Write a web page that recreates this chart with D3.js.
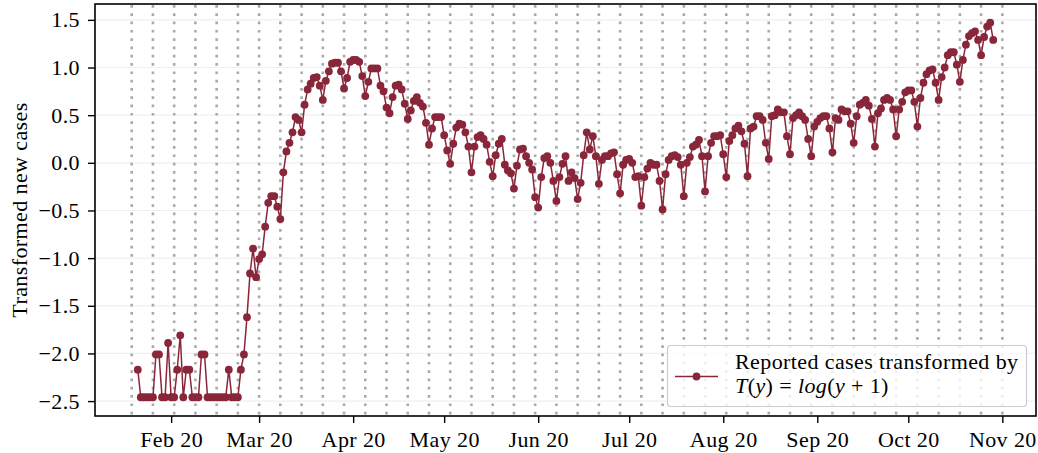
<!DOCTYPE html>
<html>
<head>
<meta charset="utf-8">
<script src="https://cdn.jsdelivr.net/npm/d3@7"></script>
<style>
  body { margin: 0; background: #fff; }
  text { font-family: "Liberation Serif", "DejaVu Serif", serif; fill: #000; letter-spacing: 0.4px; }
</style>
</head>
<body>
<div class="chart"></div>
<script>
// daily series, first value is 2020-01-21
var startDate = "2020-01-21";
var values = [
  -2.17, -2.46, -2.46, -2.46, -2.46, -2.46, -2.01, -2.01, -2.46, -2.46,
  -1.89, -2.46, -2.46, -2.17, -1.81, -2.46, -2.17, -2.17, -2.46, -2.46,
  -2.46, -2.01, -2.01, -2.46, -2.46, -2.46, -2.46, -2.46, -2.46, -2.46,
  -2.17, -2.46, -2.46, -2.46, -2.17, -2.01, -1.62, -1.16, -0.90, -1.20,
  -1.01, -0.96, -0.67, -0.42, -0.35, -0.35, -0.46, -0.59, -0.10, 0.12,
  0.21, 0.32, 0.48, 0.45, 0.32, 0.61, 0.77, 0.83, 0.89, 0.90,
  0.81, 0.66, 0.86, 0.96, 1.04, 1.05, 1.05, 0.96, 0.78, 0.89,
  1.06, 1.08, 1.08, 1.06, 0.91, 0.70, 0.85, 0.99, 0.99, 0.99,
  0.81, 0.75, 0.58, 0.52, 0.69, 0.81, 0.82, 0.77, 0.62, 0.46,
  0.55, 0.65, 0.69, 0.63, 0.59, 0.42, 0.19, 0.36, 0.48, 0.48,
  0.48, 0.29, 0.13, -0.01, 0.20, 0.37, 0.41, 0.40, 0.32, 0.17,
  -0.10, 0.17, 0.27, 0.29, 0.25, 0.19, 0.01, -0.14, 0.08, 0.20,
  0.25, -0.02, -0.08, -0.11, -0.27, -0.03, 0.14, 0.15, 0.07, 0.00,
  -0.07, -0.36, -0.47, -0.15, 0.05, 0.07, 0.00, -0.19, -0.40, -0.15,
  -0.01, 0.07, -0.19, -0.10, -0.16, -0.38, -0.21, 0.08, 0.32, 0.14,
  0.28, 0.07, -0.22, 0.03, 0.07, 0.07, 0.10, 0.11, -0.12, -0.32,
  -0.02, 0.03, 0.04, 0.00, -0.15, -0.14, -0.45, -0.15, -0.06, 0.00,
  -0.02, -0.02, -0.19, -0.49, -0.12, 0.03, 0.07, 0.08, 0.06, -0.02,
  -0.35, 0.00, 0.06, 0.17, 0.19, 0.24, 0.07, -0.30, 0.07, 0.21,
  0.28, 0.28, 0.29, 0.09, -0.15, 0.23, 0.29, 0.36, 0.39, 0.33,
  0.20, -0.14, 0.36, 0.38, 0.49, 0.49, 0.45, 0.21, 0.04, 0.49,
  0.50, 0.56, 0.53, 0.53, 0.28, 0.09, 0.47, 0.50, 0.53, 0.49,
  0.45, 0.25, 0.07, 0.38, 0.43, 0.47, 0.49, 0.49, 0.36, 0.11,
  0.47, 0.45, 0.56, 0.54, 0.54, 0.41, 0.21, 0.49, 0.61, 0.63,
  0.66, 0.60, 0.46, 0.17, 0.52, 0.57, 0.66, 0.68, 0.66, 0.56,
  0.28, 0.56, 0.64, 0.74, 0.76, 0.76, 0.64, 0.38, 0.68, 0.84,
  0.93, 0.97, 0.98, 0.84, 0.66, 0.90, 1.00, 1.13, 1.16, 1.16,
  1.03, 0.85, 1.08, 1.24, 1.33, 1.36, 1.38, 1.29, 1.13, 1.32,
  1.43, 1.47, 1.29
];
var monthTicks = ["2020-02-01", "2020-03-01", "2020-04-01", "2020-05-01", "2020-06-01",
                  "2020-07-01", "2020-08-01", "2020-09-01", "2020-10-01", "2020-11-01"];
var yTicks = [-2.5, -2.0, -1.5, -1.0, -0.5, 0.0, 0.5, 1.0, 1.5];
var yLabel = "Transformed new cases";
var legendLine1 = "Reported cases transformed by";

draw();

function draw() {
    var width = 1038, height = 453;
    var left = 95, right = 1036, top = 4, bottom = 416;
    var lineColor = "#89263a";
    var fontSize = 22;

    var first = new Date(startDate + "T00:00:00Z");
    var dates = values.map(function (v, i) {
        return d3.utcDay.offset(first, i);
    });
    var last = dates[dates.length - 1];

    // matplotlib style 5% margins
    var xPad = (last - first) * 0.05;
    var x = d3.scaleUtc()
        .domain([new Date(first.getTime() - xPad), new Date(last.getTime() + xPad)])
        .range([left, right]);

    var ext = d3.extent(values);
    var yPad = (ext[1] - ext[0]) * 0.05;
    var y = d3.scaleLinear()
        .domain([ext[0] - yPad, ext[1] + yPad])
        .range([bottom, top]);

    var svg = d3.select(".chart")
        .append("svg")
        .attr("width", width)
        .attr("height", height)
        .style("background", "#fff");

    // faint horizontal grid
    svg.append("g")
        .selectAll("line")
        .data(yTicks)
        .enter()
        .append("line")
        .attr("x1", left)
        .attr("x2", right)
        .attr("y1", function (d) { return y(d); })
        .attr("y2", function (d) { return y(d); })
        .attr("stroke", "#efefef")
        .attr("stroke-width", 1.2);

    // weekly dotted lines on sundays
    var sundays = d3.utcSunday.range(d3.utcSunday.floor(first), d3.utcDay.offset(d3.utcSunday.ceil(last), 1));
    svg.append("g")
        .selectAll("line")
        .data(sundays)
        .enter()
        .append("line")
        .attr("x1", function (d) { return x(d); })
        .attr("x2", function (d) { return x(d); })
        .attr("y1", top + 1)
        .attr("y2", bottom)
        .attr("stroke", "#aaaaaa")
        .attr("stroke-width", 2.6)
        .attr("stroke-dasharray", "2.7,5.6");

    var line = d3.line()
        .x(function (d, i) { return x(dates[i]); })
        .y(function (d) { return y(d); });

    svg.append("path")
        .datum(values)
        .attr("d", line)
        .attr("fill", "none")
        .attr("stroke", lineColor)
        .attr("stroke-width", 1.5);

    svg.append("g")
        .selectAll("circle")
        .data(values)
        .enter()
        .append("circle")
        .attr("cx", function (d, i) { return x(dates[i]); })
        .attr("cy", function (d) { return y(d); })
        .attr("r", 3.9)
        .attr("fill", lineColor);

    // axes
    var xAxis = svg.append("g")
        .attr("transform", "translate(0," + bottom + ")")
        .call(d3.axisBottom(x)
            .tickValues(monthTicks.map(function (s) { return new Date(s + "T00:00:00Z"); }))
            .tickFormat(d3.utcFormat("%b %y"))
            .tickSize(7)
            .tickPadding(8));

    var yAxis = svg.append("g")
        .attr("transform", "translate(" + left + ",0)")
        .call(d3.axisLeft(y)
            .tickValues(yTicks)
            .tickFormat(d3.format(".1f"))
            .tickSize(7)
            .tickPadding(8));

    [xAxis, yAxis].forEach(function (g) {
        g.select(".domain").remove();
        g.selectAll(".tick line").attr("stroke", "#000").attr("stroke-width", 1.4);
        g.selectAll(".tick text")
            .attr("font-family", "Liberation Serif, DejaVu Serif, serif")
            .attr("font-size", fontSize)
            .attr("fill", "#000");
    });

    svg.append("rect")
        .attr("x", left)
        .attr("y", top)
        .attr("width", right - left)
        .attr("height", bottom - top)
        .attr("fill", "none")
        .attr("stroke", "#000")
        .attr("stroke-width", 1.6);

    svg.append("text")
        .attr("transform", "translate(19," + ((top + bottom) / 2) + ") rotate(-90)")
        .attr("text-anchor", "middle")
        .attr("dy", "0.35em")
        .attr("font-size", fontSize)
        .text(yLabel);

    // legend
    var legend = svg.append("g");
    legend.append("rect")
        .attr("x", 667.5)
        .attr("y", 345.5)
        .attr("width", 359)
        .attr("height", 61)
        .attr("rx", 3)
        .attr("fill", "#fff")
        .attr("fill-opacity", 0.8)
        .attr("stroke", "#cccccc")
        .attr("stroke-width", 1.2);

    legend.append("line")
        .attr("x1", 675)
        .attr("x2", 718)
        .attr("y1", 376.5)
        .attr("y2", 376.5)
        .attr("stroke", lineColor)
        .attr("stroke-width", 1.5);

    legend.append("circle")
        .attr("cx", 696.5)
        .attr("cy", 376.5)
        .attr("r", 3.9)
        .attr("fill", lineColor);

    legend.append("text")
        .attr("x", 735)
        .attr("y", 369)
        .attr("font-size", fontSize)
        .style("letter-spacing", "0.4px")
        .text(legendLine1);

    var formula = legend.append("text")
        .attr("x", 735)
        .attr("y", 393)
        .attr("font-size", fontSize);

    [["T", true], ["(", false], ["y", true], [") = ", false], ["log", true],
     ["(", false], ["y", true], [" + 1)", false]].forEach(function (p) {
        formula.append("tspan")
            .attr("font-style", p[1] ? "italic" : "normal")
            .text(p[0]);
    });
}
</script>
</body>
</html>
